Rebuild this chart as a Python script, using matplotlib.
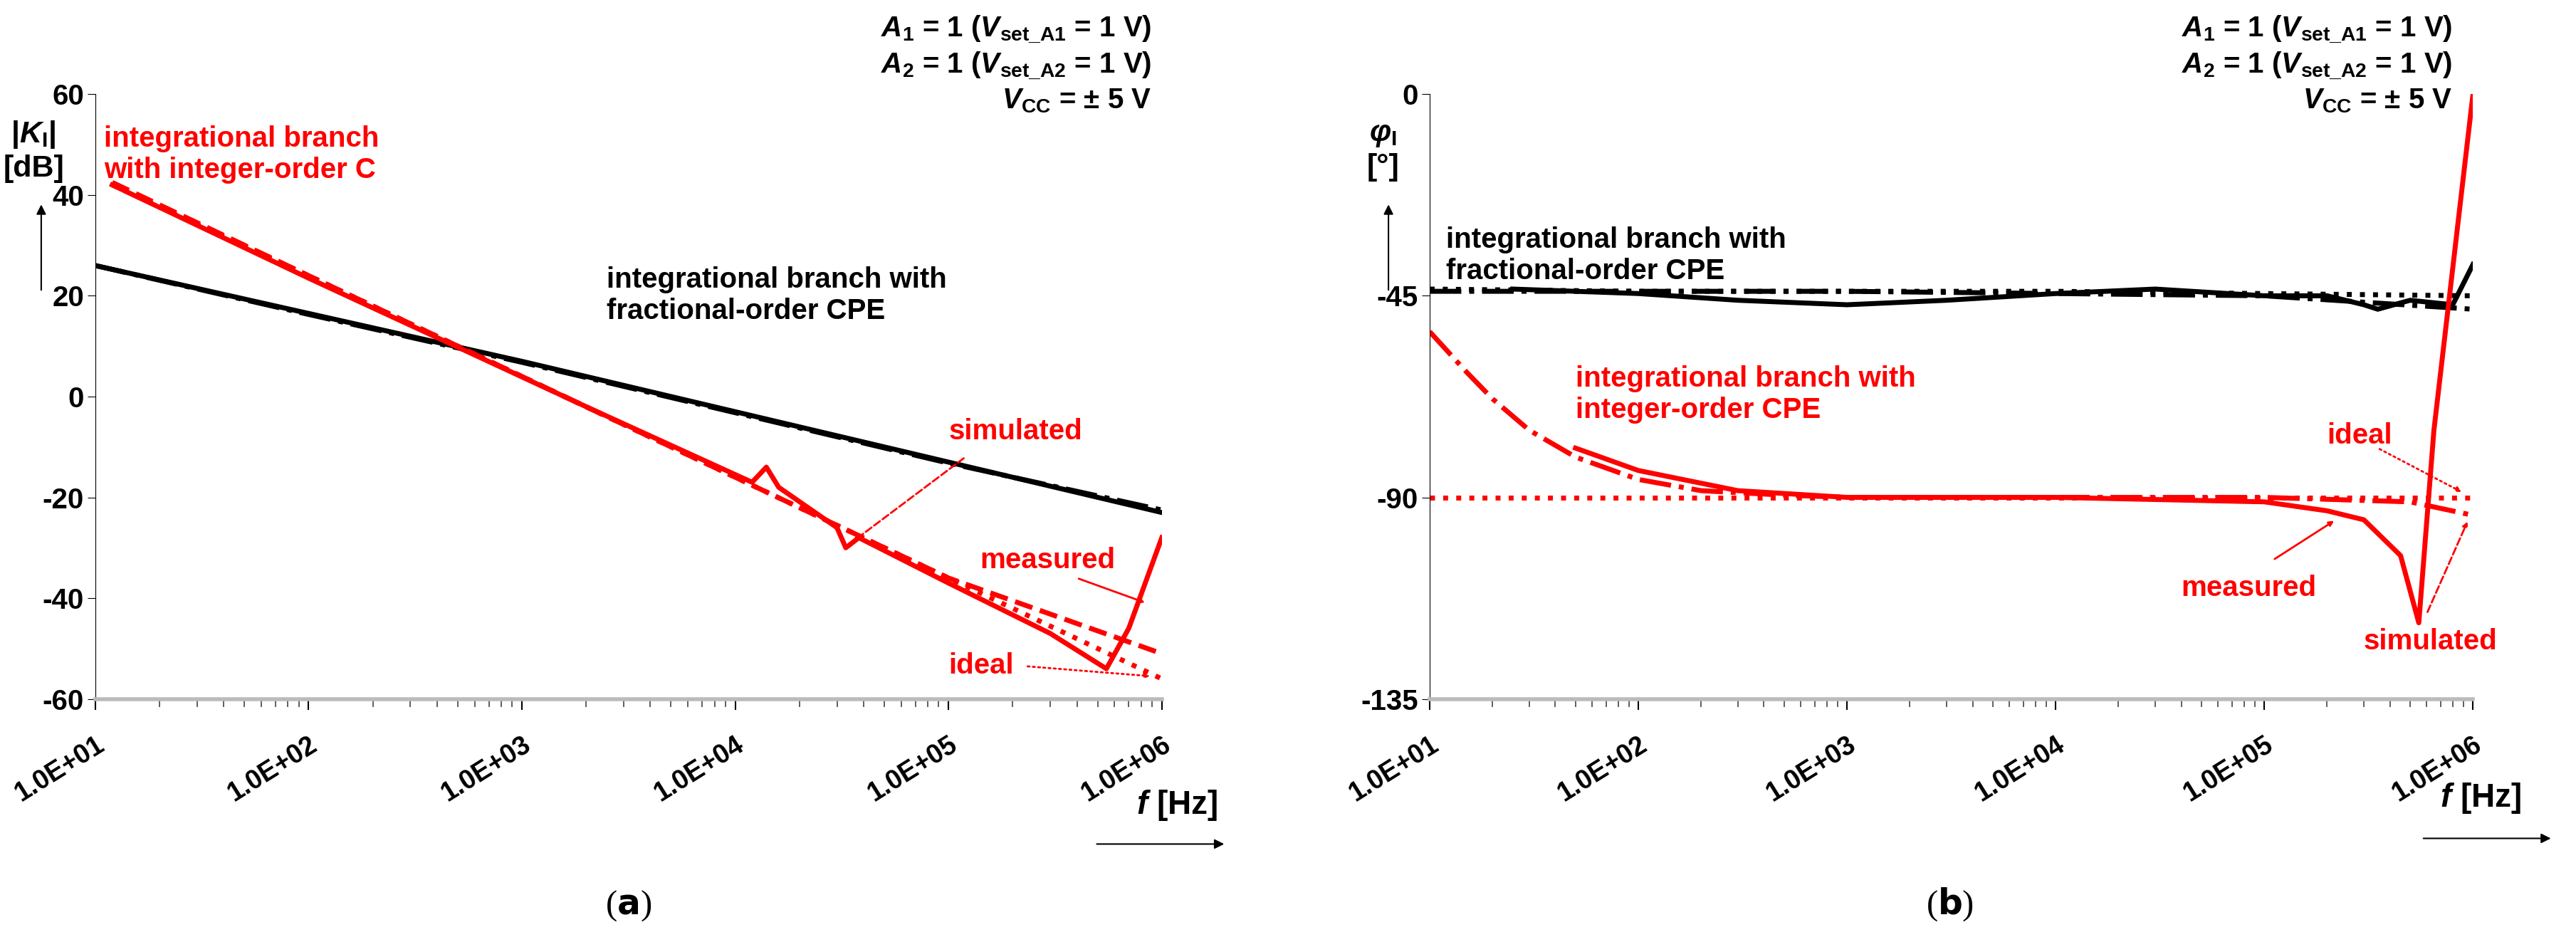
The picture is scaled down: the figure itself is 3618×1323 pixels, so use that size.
import matplotlib
matplotlib.use("Agg")
import matplotlib.pyplot as plt
import numpy as np

plt.rcParams['font.family'] = ['Liberation Sans', 'DejaVu Sans']
plt.rcParams['font.weight'] = 'bold'
plt.rcParams['mathtext.fontset'] = 'custom'
plt.rcParams['mathtext.it'] = 'Liberation Sans:italic:bold'
plt.rcParams['mathtext.rm'] = 'Liberation Sans:bold'

# ---- data (a) magnitude ----
fa_cpe = [10, 100, 1e3, 1e4, 1e5, 1e6]
ka_cpe_meas = [26, 16.5, 7, -3, -13, -23]
ka_cpe_sim = [26, 16.3, 6.8, -3.2, -13.2, -22.5]
fa_int_meas = [12, 100, 550, 2e3, 1.2e4, 1.4e4, 1.6e4, 3e4, 3.3e4, 3.8e4, 1e5, 3e5, 5.5e5, 7e5, 1e6]
ka_int_meas = [42, 23.5, 9, -2, -17, -14, -18, -26, -30, -28, -37, -47, -54, -46, -28]
fa_int_sim = [12, 100, 1e3, 1e4, 1e5, 1e6]
ka_int_sim = [42.5, 24, 4, -16, -36, -51]
fa_ideal = [12, 100, 1e3, 1e4, 1e5, 1e6]
ka_ideal = [42, 24, 4, -16, -36, -56]

# ---- data (b) phase ----
fb_cpe_meas = [25, 100, 300, 1e3, 3e3, 1e4, 3e4, 1e5, 2e5, 3e5, 3.5e5, 5e5, 8e5, 1e6]
pb_cpe_meas = [-43.5, -44.5, -46, -47, -46, -44.5, -43.5, -45, -45, -47, -48, -46, -47, -38]
fb_cpe_sim = [10, 100, 1e3, 1e4, 1e5, 1e6]
pb_cpe_sim = [-44, -44, -44, -44.5, -45, -48]
fb_cpe_ideal = [10, 100, 1e3, 1e4, 1e5, 1e6]
pb_cpe_ideal = [-43.5, -44, -44, -44, -44.5, -45]
fb_int_sim = [10, 15, 20, 30, 50, 100, 200, 500, 1e3, 1e4, 1e5, 5e5, 1e6]
pb_int_sim = [-53, -62, -68, -75, -81, -86, -88.5, -89.5, -90, -90, -90, -91, -94]
fb_int_meas = [50, 100, 300, 1e3, 1e4, 1e5, 2e5, 3e5, 4.5e5, 5.5e5, 6.5e5, 1e6]
pb_int_meas = [-79, -84, -88.5, -90, -90, -91, -93, -95, -103, -118, -75, 0]
fb_int_ideal = [10, 1e6]
pb_int_ideal = [-90, -90]

red = '#ff0000'
fig = plt.figure(figsize=(36.18, 13.23), dpi=100)
axa = fig.add_axes([0.037, 0.258, 0.414, 0.642])
axb = fig.add_axes([0.555, 0.258, 0.405, 0.642])
fs = 29
tfs = 27

for ax in (axa, axb):
    ax.set_xscale('log')
    ax.set_xlim(10, 1e6)
    ax.spines['top'].set_visible(False)
    ax.spines['right'].set_visible(False)
    ax.spines['left'].set_color('black')
    ax.spines['bottom'].set_color('#bbbbbb')
    ax.spines['bottom'].set_linewidth(4)
    ax.set_xticks([10, 100, 1e3, 1e4, 1e5, 1e6])
    ax.xaxis.set_minor_locator(matplotlib.ticker.LogLocator(base=10, subs=np.arange(2, 10)))
    ax.xaxis.set_minor_formatter(matplotlib.ticker.NullFormatter())
    ax.set_xticklabels(['1.0E+01', '1.0E+02', '1.0E+03', '1.0E+04', '1.0E+05', '1.0E+06'],
                       rotation=32, ha='right', va='top', rotation_mode='anchor',
                       fontsize=tfs, fontweight='bold')
    ax.tick_params(axis='x', which='major', length=11, width=1.5, color='black', pad=22)
    ax.tick_params(axis='x', which='minor', length=8, width=1.2, color='#444444')
    ax.tick_params(axis='y', labelsize=tfs + 2, length=8, color='black')

lw = 5
axa.plot(fa_cpe, ka_cpe_sim, color='black', lw=lw, ls='-.')
axa.plot(fa_cpe, ka_cpe_meas, color='black', lw=lw)
axa.plot(fa_int_sim, ka_int_sim, color=red, lw=lw, ls='--')
axa.plot(fa_ideal, ka_ideal, color=red, lw=lw, ls=':')
axa.plot(fa_int_meas, ka_int_meas, color=red, lw=lw)
axa.set_ylim(-60, 60)
axa.set_yticks(range(-60, 61, 20))
axa.set_yticklabels([str(v) for v in range(-60, 61, 20)])

axb.plot(fb_cpe_sim, pb_cpe_sim, color='black', lw=lw, ls='-.')
axb.plot(fb_cpe_ideal, pb_cpe_ideal, color='black', lw=lw, ls=':')
axb.plot(fb_cpe_meas, pb_cpe_meas, color='black', lw=lw)
axb.plot(fb_int_sim, pb_int_sim, color=red, lw=lw, ls='-.')
axb.plot(fb_int_ideal, pb_int_ideal, color=red, lw=lw, ls=':')
axb.plot(fb_int_meas, pb_int_meas, color=red, lw=lw)
axb.set_ylim(-135, 0)
axb.set_yticks([-135, -90, -45, 0])
axb.set_yticklabels(['-135', '-90', '-45', '0'])
for ax in (axa, axb):
    for l in ax.get_yticklabels():
        l.set_fontweight('bold')

cond = '$A$$_1$ = 1 ($V$$_{\\rm set\\_A1}$ = 1 V)\n$A$$_2$ = 1 ($V$$_{\\rm set\\_A2}$ = 1 V)\n$V$$_{\\rm CC}$ = ± 5 V'
for x in (0.447, 0.952):
    fig.text(x, 0.985, cond, ha='right', va='top', fontsize=fs, fontweight='bold', linespacing=1.25)

# axis labels with arrows
fig.text(0.013, 0.84, '|$K$$_{\\rm I}$|\n[dB]', ha='center', va='center', fontsize=fs+2, fontweight='bold')
fig.text(0.537, 0.84, '$φ$$_{\\rm I}$\n[°]', ha='center', va='center', fontsize=fs+2, fontweight='bold')
for x in (0.016, 0.539):
    fig.add_artist(matplotlib.patches.FancyArrowPatch((x, 0.69), (x, 0.785), transform=fig.transFigure,
                   arrowstyle='-|>', mutation_scale=20, color='black', lw=1.5))
for xl, yl, ya, x0, x1 in ((0.457, 0.145, 0.104, 0.425, 0.476), (0.963, 0.153, 0.11, 0.94, 0.991)):
    fig.text(xl, yl, '$f$ [Hz]', ha='center', va='center', fontsize=fs + 4, fontweight='bold')
    fig.add_artist(matplotlib.patches.FancyArrowPatch((x0, ya), (x1, ya), transform=fig.transFigure,
                   arrowstyle='-|>', mutation_scale=20, color='black', lw=1.5))

fig.text(0.244, 0.03, '($\\mathbf{a}$)', ha='center', fontsize=fs + 6, fontweight='normal', family='Liberation Serif')
fig.text(0.757, 0.03, '($\\mathbf{b}$)', ha='center', fontsize=fs + 6, fontweight='normal', family='Liberation Serif')

# panel (a) annotations
axa.text(11, 48, 'integrational branch\nwith integer-order C', color=red, fontsize=fs, fontweight='bold', va='center')
axa.text(2.5e3, 20, 'integrational branch with\nfractional-order CPE', color='black', fontsize=fs, fontweight='bold', va='center')
axa.text(1e5, -8.5, 'simulated', color=red, fontsize=fs, fontweight='bold')
axa.annotate('', xy=(3.5e4, -29), xytext=(1.2e5, -12), arrowprops=dict(arrowstyle='-|>', color=red, lw=2, ls='--'))
axa.text(1.4e5, -34, 'measured', color=red, fontsize=fs, fontweight='bold')
axa.annotate('', xy=(8.5e5, -41), xytext=(4e5, -36), arrowprops=dict(arrowstyle='-|>', color=red, lw=2))
axa.text(1e5, -55, 'ideal', color=red, fontsize=fs, fontweight='bold')
axa.annotate('', xy=(9e5, -55.5), xytext=(2.3e5, -53.5), arrowprops=dict(arrowstyle='-|>', color=red, lw=2, ls=':'))

# panel (b) annotations
axb.text(12, -36, 'integrational branch with\nfractional-order CPE', color='black', fontsize=fs, fontweight='bold', va='center')
axb.text(50, -67, 'integrational branch with\ninteger-order CPE', color=red, fontsize=fs, fontweight='bold', va='center')
axb.text(2e5, -78, 'ideal', color=red, fontsize=fs, fontweight='bold')
axb.annotate('', xy=(9e5, -89), xytext=(3.5e5, -79), arrowprops=dict(arrowstyle='-|>', color=red, lw=2, ls=':'))
axb.text(4e4, -112, 'measured', color=red, fontsize=fs, fontweight='bold')
axb.annotate('', xy=(2.2e5, -95), xytext=(1.1e5, -104), arrowprops=dict(arrowstyle='-|>', color=red, lw=2))
axb.text(3e5, -124, 'simulated', color=red, fontsize=fs, fontweight='bold')
axb.annotate('', xy=(9.5e5, -95), xytext=(6e5, -116), arrowprops=dict(arrowstyle='-|>', color=red, lw=2, ls='--'))

fig.savefig('out.png', dpi=100)
